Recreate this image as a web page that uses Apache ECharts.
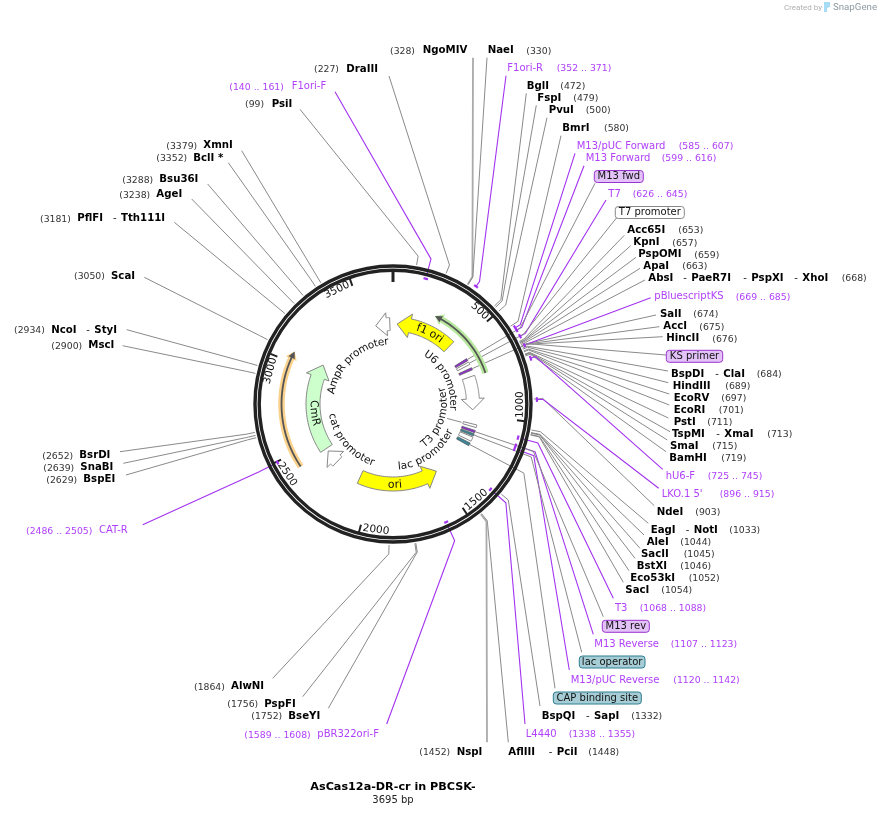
<!DOCTYPE html>
<html>
<head>
<meta charset="utf-8">
<title>AsCas12a-DR-cr in PBCSK-</title>
<script src="https://cdn.jsdelivr.net/npm/echarts@6/dist/echarts.min.js"></script>
<style>
html, body { margin: 0; padding: 0; background: #fff; }
#map { width: 881px; height: 836px; }
</style>
</head>
<body>
<div id="map"></div>
<script>
var plasmidName = 'AsCas12a-DR-cr in PBCSK-';
var plasmidLength = 3695;
var tickValues = [0, 500, 1000, 1500, 2000, 2500, 3000, 3500];

// restriction sites
var siteNames = [['PsiI'], ['DraIII'], ['NgoMIV'], ['NaeI'], ['BglI'], ['FspI'], ['PvuI'], ['BmrI'],
    ['Acc65I'], ['KpnI'], ['PspOMI'], ['ApaI'], ['AbsI', 'PaeR7I', 'PspXI', 'XhoI'], ['SalI'], ['AccI'], ['HincII'],
    ['BspDI', 'ClaI'], ['HindIII'], ['EcoRV'], ['EcoRI'], ['PstI'], ['TspMI', 'XmaI'], ['SmaI'], ['BamHI'],
    ['NdeI'], ['EagI', 'NotI'], ['AleI'], ['SacII'], ['BstXI'], ['Eco53kI'], ['SacI'],
    ['BspQI', 'SapI'], ['AflIII', 'PciI'], ['NspI'], ['BseYI'], ['PspFI'], ['AlwNI'],
    ['BspEI'], ['SnaBI'], ['BsrDI'], ['MscI'], ['NcoI', 'StyI'], ['ScaI'], ['PflFI', 'Tth111I'],
    ['AgeI'], ['Bsu36I'], ['BclI *'], ['XmnI']];
var sitePositions = [99, 227, 328, 330, 472, 479, 500, 580,
    653, 657, 659, 663, 668, 674, 675, 676,
    684, 689, 697, 701, 711, 713, 715, 719,
    903, 1033, 1044, 1045, 1046, 1052, 1054,
    1332, 1448, 1452, 1752, 1756, 1864,
    2629, 2639, 2652, 2900, 2934, 3050, 3181,
    3238, 3288, 3352, 3379];

// primers
var primerNames = ['F1ori-F', 'F1ori-R', 'M13/pUC Forward', 'M13 Forward', 'T7', 'pBluescriptKS', 'hU6-F', "LKO.1 5'",
    'T3', 'M13 Reverse', 'M13/pUC Reverse', 'L4440', 'pBR322ori-F', 'CAT-R'];
var primerStarts = [140, 352, 585, 599, 626, 669, 725, 896, 1068, 1107, 1120, 1338, 1589, 2486];
var primerEnds = [161, 371, 607, 616, 645, 685, 745, 915, 1088, 1123, 1142, 1355, 1608, 2505];

// big feature arrows, start is the tail and end the tip
var arrowNames = ['f1 ori', 'ori', 'CmR', 'U6 promoter', 'AmpR promoter', 'cat promoter'];
var arrowTails = [455, 2096, 2425, 725, 3672, 2300];
var arrowTips = [30, 1510, 3070, 966, 3567, 2402];

// translated orfs in the outer lanes
var orfTails = [733, 2421];
var orfTips = [262, 3060];

// short features that show as stubs
var stubNames = ['M13 fwd', 'T7 promoter', 'KS primer', 'T3 promoter', 'M13 rev', 'lac operator', 'lac promoter', 'CAP binding site'];
var stubStarts = [599, 626, 669, 1068, 1107, 1131, 1155, 1199];
var stubEnds = [615, 644, 685, 1086, 1123, 1147, 1185, 1220];

// curved names, bp position of the middle of the text
var curvedNames = ['f1 ori', 'ori', 'CmR', 'U6 promoter', 'T3 promoter', 'lac promoter', 'cat promoter', 'AmpR promoter'];
var curvedMiddles = [282, 1833, 2705, 656, 1108, 1488, 2356, 3259];

// ---- layout, picture pixels ----
// name x list, number x, y, leader end x, leader end y
var siteLayout = [
    [[271.7], 245, 104.3, 300, 109.3], [[346.3], 314, 69, 389, 76], [[422.7], 390, 50.7, 473, 57.7], [[487.7], 526.3, 50.7, 487, 57.7],
    [[526.7], 560.3, 86.3, 526.3, 93.3], [[537.3], 573.3, 98.3, 536.3, 105.3], [[548.7], 585.7, 110.3, 547, 117.7], [[562.3], 604, 128.3, 561, 135.7],
    [[627.3], 678.3, 230.3, 624.3, 235.3], [[633.3], 672.3, 242.7, 630.7, 245.7], [[638.3], 694.3, 254.7, 636, 257.3], [[643.3], 682.3, 266.3, 640, 268.3],
    [[648.3, 691.3, 751.3, 802.3], 841.7, 278.3, 645, 280], [[660], 693.3, 314.3, 656, 315], [[663.3], 699.3, 326.7, 659.3, 326.7], [[666.3], 712.3, 338.7, 662.7, 336.7],
    [[671, 723.3], 756.7, 374.3, 668, 371], [[672.7], 725.3, 386.3, 668.3, 382.7], [[673.7], 721.3, 398.3, 669.3, 394], [[673.7], 718.7, 410.3, 669.3, 405],
    [[673.7], 707.3, 422.3, 668.3, 418], [[672, 724.3], 767.3, 434.3, 670, 431.7], [[670], 712.3, 446.3, 667.3, 440], [[669.3], 721.3, 458.3, 666, 451.7],
    [[656.7], 695.3, 512.3, 654.3, 505.7], [[650.7, 693.7], 729.3, 530.3, 648.3, 523.3], [[646.7], 680.3, 542.3, 644, 535], [[641], 683.7, 554.3, 640, 548.3],
    [[636.7], 680.3, 566.3, 635, 558.3], [[630.3], 688.7, 578.3, 629, 570.7], [[625.3], 661.3, 590.3, 623.3, 582.3],
    [[541.7, 594], 631.3, 716.3, 540, 706], [[508.3, 556.7], 588.3, 752.3, 508.3, 742.3], [[456.7], 419.3, 752.3, 487, 742.3],
    [[288.3], 251.3, 716.3, 328.3, 708.3], [[264.3], 227.3, 704.3, 302.7, 696.7], [[231], 194, 686.7, 272.7, 678.3],
    [[83.3], 46.3, 479.7, 126, 475], [[80.3], 43.3, 467.7, 123.3, 463.3], [[79.3], 42.3, 455.7, 120, 451.7],
    [[88.3], 51.3, 345.7, 122.7, 345.7], [[51.3, 94.3], 14, 330, 126.7, 329.7], [[111], 74, 276, 144.3, 277.3], [[77.3, 121], 40, 218.7, 174.3, 222.3],
    [[156.3], 119.3, 194.7, 191.7, 199], [[159.3], 122.3, 179.7, 207.7, 184], [[193.3], 156.3, 158, 228.3, 162.7], [[203.3], 166.3, 145.7, 241.7, 150.7]
];
// name x, range x, y, leader end x, leader end y, lane radius
var primerLayout = [
    [291.7, 229.3, 86.7, 335, 91.7, 129.5], [507.3, 556.7, 68.3, 506, 75.7, 144], [576.7, 678.7, 146, 575, 153.3, 144], [585.7, 661.7, 158.3, 584, 165.7, 144],
    [608.3, 632.7, 194.3, 606, 200, 144], [654.3, 735.7, 296.7, 650.7, 297.7, 144], [665.7, 707.7, 476.3, 662.7, 469.3, 145], [661.7, 719.7, 494.3, 658.7, 488.3, 144],
    [615, 639.7, 608.3, 613.3, 598.3, 129.5], [594.3, 670.7, 644, 593.3, 634.3, 129.5], [570.7, 673.3, 680, 569.3, 670, 129.5], [525.7, 568.7, 734.3, 525, 724, 129.5],
    [317.3, 244.3, 734.7, 386.7, 724, 129.5], [99, 26, 530.7, 142.7, 524.7, 129.5]
];
// stub index, box left, box right, box centre y, leader end x, leader end y
var boxLayout = [
    [0, 594.3, 643.3, 176.5, 595, 183.3], [1, 615.3, 684.3, 212.5, 616.7, 217.7], [2, 666.3, 722.7, 356.3, 666, 355],
    [4, 602.3, 649.3, 626.3, 603.3, 616.7], [5, 579.3, 645, 662, 581.7, 652.3], [7, 553.3, 641.3, 698, 555, 688.3]
];
var stubFill = ['#9030d0', '#ffffff', '#9030d0', '#ffffff', '#9030d0', '#3a8799', '#ffffff', '#3a8799'];
var boxFill = ['#e2c2f7', '#ffffff', '#e2c2f7', null, '#e2c2f7', '#a6cdd6', null, '#a6cdd6'];
var boxEdge = ['#9a34d0', '#888888', '#9a34d0', null, '#9a34d0', '#2f7f91', null, '#2f7f91'];
var arrowFill = ['#ffff00', '#ffff00', '#ccffcc', '#ffffff', '#ffffff', '#ffffff'];
var orfGlow = ['#b7e89e', '#fbd28c'];
var orfRadius = [97.5, 111.5];
var curvedRadius = [80, 81, 79.5, 60, 51, 63, 62, 62.5];
var curvedClockwise = [true, false, false, true, false, false, false, true];

var FONT = '"DejaVu Sans", sans-serif';
var PURPLE = '#b040fa';
var PURPLE_LINE = '#a333f0';
var ctx = document.createElement('canvas').getContext('2d');

function textItem(str, x, y, font, fill, align, rot) {
    return {
        type: 'text', x: x, y: y, rotation: rot || 0,
        style: { text: str, x: 0, y: 0, font: font, fill: fill, align: align || 'left', textAlign: align || 'left', verticalAlign: 'middle', textVerticalAlign: 'middle' }
    };
}

function bpPerPixel(r) {
    return plasmidLength / (2 * Math.PI * r);
}

// polygon of a curved arrow, all points go through the polar scale
function arrowPoints(api, tail, tip, r, bodyW, headW, headLen) {
    var dir = tip > tail ? 1 : -1;
    var neck = tip - dir * headLen * bpPerPixel(r);
    var pts = [];
    var n = 30, i;
    for (i = 0; i <= n; i++) pts.push(api.coord([r + bodyW / 2, tail + (neck - tail) * i / n]));
    pts.push(api.coord([r + headW / 2, neck]));
    pts.push(api.coord([r, tip]));
    pts.push(api.coord([r - headW / 2, neck]));
    for (i = n; i >= 0; i--) pts.push(api.coord([r - bodyW / 2, tail + (neck - tail) * i / n]));
    return pts;
}

function arcPoints(api, from, to, r) {
    var pts = [];
    for (var i = 0; i <= 12; i++) pts.push(api.coord([r, from + (to - from) * i / 12]));
    return pts;
}

function leaderLine(api, startR, bp, kinkR, endX, endY, color, width) {
    return {
        type: 'polyline',
        shape: { points: [api.coord([startR, bp]), api.coord([kinkR, bp]), [endX, endY]] },
        style: { stroke: color, lineWidth: width, fill: null }
    };
}

function customSeries(data, z, renderItem) {
    return {
        type: 'custom', coordinateSystem: 'polar', encode: { radius: 0, angle: 1 },
        data: data, z: z, silent: true, clip: false, animation: false, renderItem: renderItem
    };
}

// ---- series ----
var siteData = sitePositions.map(function (p) { return [141, p]; });
var primerData = primerStarts.map(function (s, i) { return [primerLayout[i][5], (s + primerEnds[i]) / 2]; });
var boxData = boxLayout.map(function (b) { return [87, (stubStarts[b[0]] + stubEnds[b[0]]) / 2]; });

function siteKink(p) {
    return (p >= 640 && p <= 730) ? 146 : 150;
}

var siteLeaders = customSeries(siteData, 1, function (params, api) {
    var i = params.dataIndex, l = siteLayout[i];
    var thick = siteNames[i][0] === 'NgoMIV' || siteNames[i][0] === 'NspI';
    return leaderLine(api, api.value(0), api.value(1), siteKink(api.value(1)), l[3], l[4], thick ? '#aaaaaa' : '#8a8a8a', thick ? 1.8 : 1);
});
var primerLeaders = customSeries(primerData, 1, function (params, api) {
    var l = primerLayout[params.dataIndex];
    // primers inside the ring only start under the backbone
    return leaderLine(api, Math.max(api.value(0), 134), api.value(1), 150, l[3], l[4], PURPLE_LINE, 1.1);
});
var boxLeaders = customSeries(boxData, 1, function (params, api) {
    var b = boxLayout[params.dataIndex];
    return leaderLine(api, api.value(0), api.value(1), 148, b[4], b[5], '#8a8a8a', 1);
});
// little line from the T3 promoter name to its stub
var t3Leader = customSeries([[56, (stubStarts[3] + stubEnds[3]) / 2]], 1, function (params, api) {
    return {
        type: 'line',
        shape: { x1: api.coord([api.value(0), api.value(1)])[0], y1: api.coord([api.value(0), api.value(1)])[1],
            x2: api.coord([71, api.value(1)])[0], y2: api.coord([71, api.value(1)])[1] },
        style: { stroke: '#8a8a8a', lineWidth: 1 }
    };
});

var backbone = customSeries([[138, 0], [133.8, 0]], 5, function (params, api) {
    var c = params.coordSys;
    return { type: 'circle', shape: { cx: c.cx, cy: c.cy, r: api.value(0) }, style: { fill: null, stroke: '#222222', lineWidth: 3.4 } };
});

var ticks = customSeries(tickValues.map(function (t) { return [133, t]; }), 6, function (params, api) {
    var major = api.value(1) === 0;
    var a = api.coord([api.value(0), api.value(1)]);
    var b = api.coord([major ? 122 : 125, api.value(1)]);
    return { type: 'line', shape: { x1: a[0], y1: a[1], x2: b[0], y2: b[1] }, style: { stroke: '#222222', lineWidth: major ? 3 : 2 } };
});

var tickLabels = customSeries(tickValues.slice(1).map(function (t) { return [127, t]; }), 6, function (params, api) {
    var r = api.value(0), t = api.value(1), str = String(t);
    var font = '10.5px ' + FONT;
    ctx.font = font;
    var at = t - (ctx.measureText(str).width / 2 + 2.5) * bpPerPixel(r);
    var p = api.coord([r, at]);
    var deg = at / plasmidLength * 360;
    if (deg > 90 && deg < 270) deg -= 180;
    return textItem(str, p[0], p[1], font, '#111111', 'center', -deg * Math.PI / 180);
});

var orfs = customSeries(orfTails.map(function (t, i) { return [orfRadius[i], t]; }), 3, function (params, api) {
    var i = params.dataIndex, r = api.value(0), tail = orfTails[i], tip = orfTips[i];
    return {
        type: 'group',
        children: [
            { type: 'polygon', shape: { points: arrowPoints(api, tail, tip, r, 6.5, 12, 8) }, style: { fill: orfGlow[i], stroke: null } },
            { type: 'polygon', shape: { points: arrowPoints(api, tail, tip, r, 1.8, 7, 7) }, style: { fill: '#555555', stroke: null } }
        ]
    };
});

var arrows = customSeries(arrowTails.map(function (t) { return [80, t]; }), 4, function (params, api) {
    var i = params.dataIndex, small = i >= 3;
    return {
        type: 'polygon',
        shape: { points: arrowPoints(api, arrowTails[i], arrowTips[i], api.value(0), small ? 13 : 14, small ? 23 : 24, small ? 11 : 13) },
        style: { fill: arrowFill[i], stroke: '#888888', lineWidth: 1 }
    };
});

var stubs = customSeries(stubStarts.map(function (s) { return [79.5, s]; }), 4, function (params, api) {
    var i = params.dataIndex, r = api.value(0);
    var a = arcPoints(api, stubStarts[i], stubEnds[i], r + 7);
    var b = arcPoints(api, stubEnds[i], stubStarts[i], r - 7);
    return { type: 'polygon', shape: { points: a.concat(b) }, style: { fill: stubFill[i], stroke: '#555555', lineWidth: 0.7 } };
});

var primerArcs = customSeries(primerData, 6, function (params, api) {
    var i = params.dataIndex;
    return {
        type: 'polyline',
        shape: { points: arcPoints(api, primerStarts[i], primerEnds[i], api.value(0)) },
        style: { stroke: PURPLE_LINE, lineWidth: 2.2, fill: null }
    };
});

var curved = customSeries(curvedMiddles.map(function (m, i) { return [curvedRadius[i], m]; }), 7, function (params, api) {
    var i = params.dataIndex, r = api.value(0), mid = api.value(1), str = curvedNames[i];
    var cw = curvedClockwise[i], font = (i < 3 ? '11px ' : '10.5px ') + FONT;
    ctx.font = font;
    var total = ctx.measureText(str).width, run = 0, kids = [];
    for (var k = 0; k < str.length; k++) {
        var w = ctx.measureText(str[k]).width;
        var off = run + w / 2 - total / 2;
        var bp = mid + (cw ? 1 : -1) * off * bpPerPixel(r);
        var p = api.coord([r, bp]);
        var deg = bp / plasmidLength * 360;
        kids.push(textItem(str[k], p[0], p[1], font, '#111111', 'center', -(cw ? deg : deg - 180) * Math.PI / 180));
        run += w;
    }
    return { type: 'group', children: kids };
});

var siteLabels = customSeries(siteData, 8, function (params, api) {
    var i = params.dataIndex, l = siteLayout[i], kids = [];
    siteNames[i].forEach(function (n, k) {
        kids.push(textItem(n, l[0][k], l[2], 'bold 10.2px ' + FONT, '#000000'));
        if (k > 0) kids.push(textItem('-', l[0][k] - 8, l[2], '10px ' + FONT, '#222222'));
    });
    kids.push(textItem('(' + sitePositions[i] + ')', l[1], l[2] + 0.5, '9.3px ' + FONT, '#333333'));
    return { type: 'group', children: kids };
});

var primerLabels = customSeries(primerData, 8, function (params, api) {
    var i = params.dataIndex, l = primerLayout[i];
    return {
        type: 'group',
        children: [
            textItem(primerNames[i], l[0], l[2], '10px ' + FONT, PURPLE),
            textItem('(' + primerStarts[i] + ' .. ' + primerEnds[i] + ')', l[1], l[2] + 0.5, '9.3px ' + FONT, PURPLE)
        ]
    };
});

var boxLabels = customSeries(boxData, 8, function (params, api) {
    var b = boxLayout[params.dataIndex], s = b[0];
    return {
        type: 'group',
        children: [
            { type: 'rect', shape: { x: b[1], y: b[3] - 6, width: b[2] - b[1], height: 12, r: 3 }, style: { fill: boxFill[s], stroke: boxEdge[s], lineWidth: 1 } },
            textItem(stubNames[s], (b[1] + b[2]) / 2, b[3], '10px ' + FONT, '#111111', 'center')
        ]
    };
});

var option = {
    backgroundColor: '#ffffff',
    animation: false,
    title: {
        text: plasmidName,
        subtext: plasmidLength + ' bp',
        left: 393,
        top: 782,
        textAlign: 'center',
        itemGap: 2,
        padding: 0,
        textStyle: { fontFamily: FONT, fontSize: 11.2, fontWeight: 'bold', color: '#000000' },
        subtextStyle: { fontFamily: FONT, fontSize: 10, color: '#222222' }
    },
    polar: { center: [393, 404], radius: 400 },
    angleAxis: { type: 'value', min: 0, max: plasmidLength, startAngle: 90, clockwise: true, show: false },
    radiusAxis: { type: 'value', min: 0, max: 400, show: false },
    graphic: [
        { type: 'text', left: 784, top: 4, style: { text: 'Created by', font: '8px Roboto', fill: '#b0b0b0' } },
        { type: 'polygon', shape: { points: [[824, 2], [830, 2], [830, 7], [827, 8], [827, 12], [824, 12]] }, style: { fill: '#a6dcf5' } },
        { type: 'text', left: 833, top: 3, style: { text: 'SnapGene', font: '9.7px Roboto', fill: '#8d9aa3' } }
    ],
    series: [siteLeaders, primerLeaders, boxLeaders, t3Leader, backbone, ticks, tickLabels, orfs, arrows, stubs, primerArcs, curved, siteLabels, primerLabels, boxLabels]
};

var chart = echarts.init(document.getElementById('map'));
chart.setOption(option);
</script>
</body>
</html>
